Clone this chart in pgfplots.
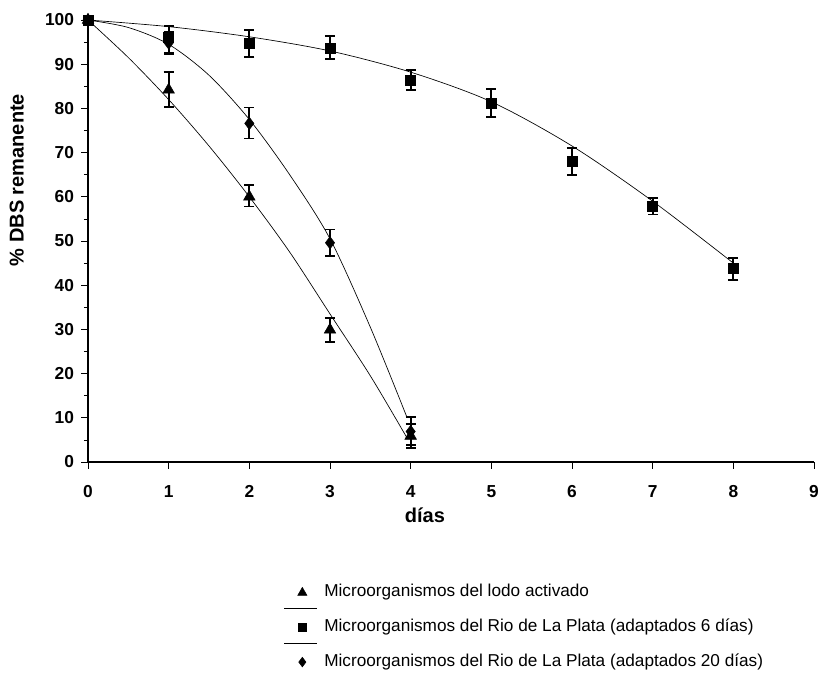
\documentclass[border=0pt]{standalone}
\usepackage{pgfplots}
\pgfplotsset{compat=1.18}
\usepackage{pgfplotstable}
\usepackage{fontspec}
\setmainfont{Liberation Sans}

\pgfplotsset{
  legA/.style={legend image code/.code={\draw[##1] plot coordinates {(0pt,0pt)};
    \draw[overlay, black, line width=0.5pt] (-13.5pt,-12pt) -- (11pt,-12pt);}},
  legB/.style={legend image code/.code={\draw[##1] plot coordinates {(0pt,0pt)};
    \draw[overlay, black, line width=0.5pt] (-13.5pt,-12pt) -- (11pt,-12pt);}},
  legC/.style={legend image code/.code={\draw[##1] plot coordinates {(0pt,0pt)};}},
}

\pgfplotstableread{
x y ep em
0 100 0 0
1 84.2 4.1 3.8
2 60.0 2.7 2.2
3 29.9 2.6 2.7
4 5.9 2.7 2.7
}\lodo

\pgfplotstableread{
x y ep em
0 100 0 0
1 96.0 2.6 3.5
2 94.7 3.0 3.1
3 93.7 2.6 2.5
4 86.4 2.3 2.2
5 81.1 3.2 3.1
6 68.1 3.0 3.2
7 57.9 1.8 1.9
8 43.8 2.3 2.6
}\riosix

\pgfplotstableread{
x y ep em
0 100 0 0
1 94.8 2.5 2.5
2 76.6 3.6 3.4
3 49.6 3.0 2.9
4 6.9 3.3 3.0
}\riotwenty

\begin{document}
\begin{tikzpicture}
\begin{axis}[
  name=ax,
  scale only axis,
  width=544.5pt, height=331.5pt,
  xmin=0, xmax=9, ymin=0, ymax=100,
  axis lines=left,
  axis line style={-, line width=0.8pt},
  xtick={0,1,...,9},
  ytick={0,10,...,100},
  minor y tick num=1,
  tick align=outside,
  major tick length=5pt,
  minor tick length=3pt,
  tick style={black, line width=0.6pt},
  /pgf/number format/assume math mode=true,
  tick label style={font=\bfseries\fontsize{13}{15}\selectfont},
  yticklabel style={xshift=-2pt},
  xticklabel style={yshift=-9.25pt},
  every axis y label/.style={at={(axis description cs:-0.098,0.638)}, rotate=90, anchor=center},
  every axis x label/.style={at={(axis description cs:0.464,-0.12)}, anchor=center},
  ylabel={\bfseries\fontsize{15}{17}\selectfont \% DBS remanente},
  xlabel={\bfseries\fontsize{15}{17}\selectfont días},
  clip=false,
  legend style={
    at={(axis description cs:0.283,-0.271)}, anchor=north west,
    draw=none, fill=none,
    font=\fontsize{12.9}{15}\selectfont,
    nodes={inner sep=0pt, text height=9pt, text depth=3pt},
    row sep=14pt,
    /tikz/every odd column/.append style={column sep=13pt},
  },
  legend cell align=left,
]
% fitted curves
\addplot[black, line width=0.5pt, smooth, forget plot] coordinates {
(0,100) (0.5,91.5) (1,82) (1.5,71.5) (2,60) (2.5,47.5) (3,33.5) (3.5,19.5) (3.95,5.6)};
\addplot[black, line width=0.5pt, smooth, forget plot] coordinates {
(0,100) (1,98.5) (2,96.2) (3,93) (4,88.2) (5,81.5) (6,71.5) (7,59) (8,45)};
\addplot[black, line width=0.5pt, smooth, forget plot] coordinates {
(0,100) (0.5,98.3) (1,94.5) (1.5,87.5) (2,77.5) (2.5,65) (3,50.5) (3.5,30.5) (3.95,10.3)};

% data with error bars
\addplot[black, only marks, mark=triangle*, mark size=5pt, forget plot,
  error bars/.cd, y dir=both, y explicit,
  error bar style={line width=1.4pt},
  error mark options={rotate=90, mark size=3.75pt, line width=1.4pt}]
  table[x=x, y=y, y error plus=ep, y error minus=em] {\lodo};
\addplot[black, only marks, mark=square*, mark size=3.75pt, forget plot,
  error bars/.cd, y dir=both, y explicit,
  error bar style={line width=1.4pt},
  error mark options={rotate=90, mark size=3.75pt, line width=1.4pt}]
  table[x=x, y=y, y error plus=ep, y error minus=em] {\riosix};
\addplot[black, only marks, mark=diamond*, mark size=4.6pt, forget plot,
  error bars/.cd, y dir=both, y explicit,
  error bar style={line width=1.4pt},
  error mark options={rotate=90, mark size=3.75pt, line width=1.4pt}]
  table[x=x, y=y, y error plus=ep, y error minus=em] {\riotwenty};

% legend
\addlegendimage{black, mark=triangle*, mark size=4pt, legA}
\addlegendentry{Microorganismos del lodo activado}
\addlegendimage{black, mark=square*, mark size=3.2pt, legB}
\addlegendentry{Microorganismos del Rio de La Plata (adaptados 6 días)}
\addlegendimage{black, mark=diamond*, mark size=3.6pt, legC}
\addlegendentry{Microorganismos del Rio de La Plata (adaptados 20 días)}
\end{axis}
\pgfresetboundingbox
\path[use as bounding box] ([shift={(-66pt,-159.75pt)}]ax.south west) rectangle ([shift={(547.5pt,346.5pt)}]ax.south west);
\end{tikzpicture}
\end{document}
